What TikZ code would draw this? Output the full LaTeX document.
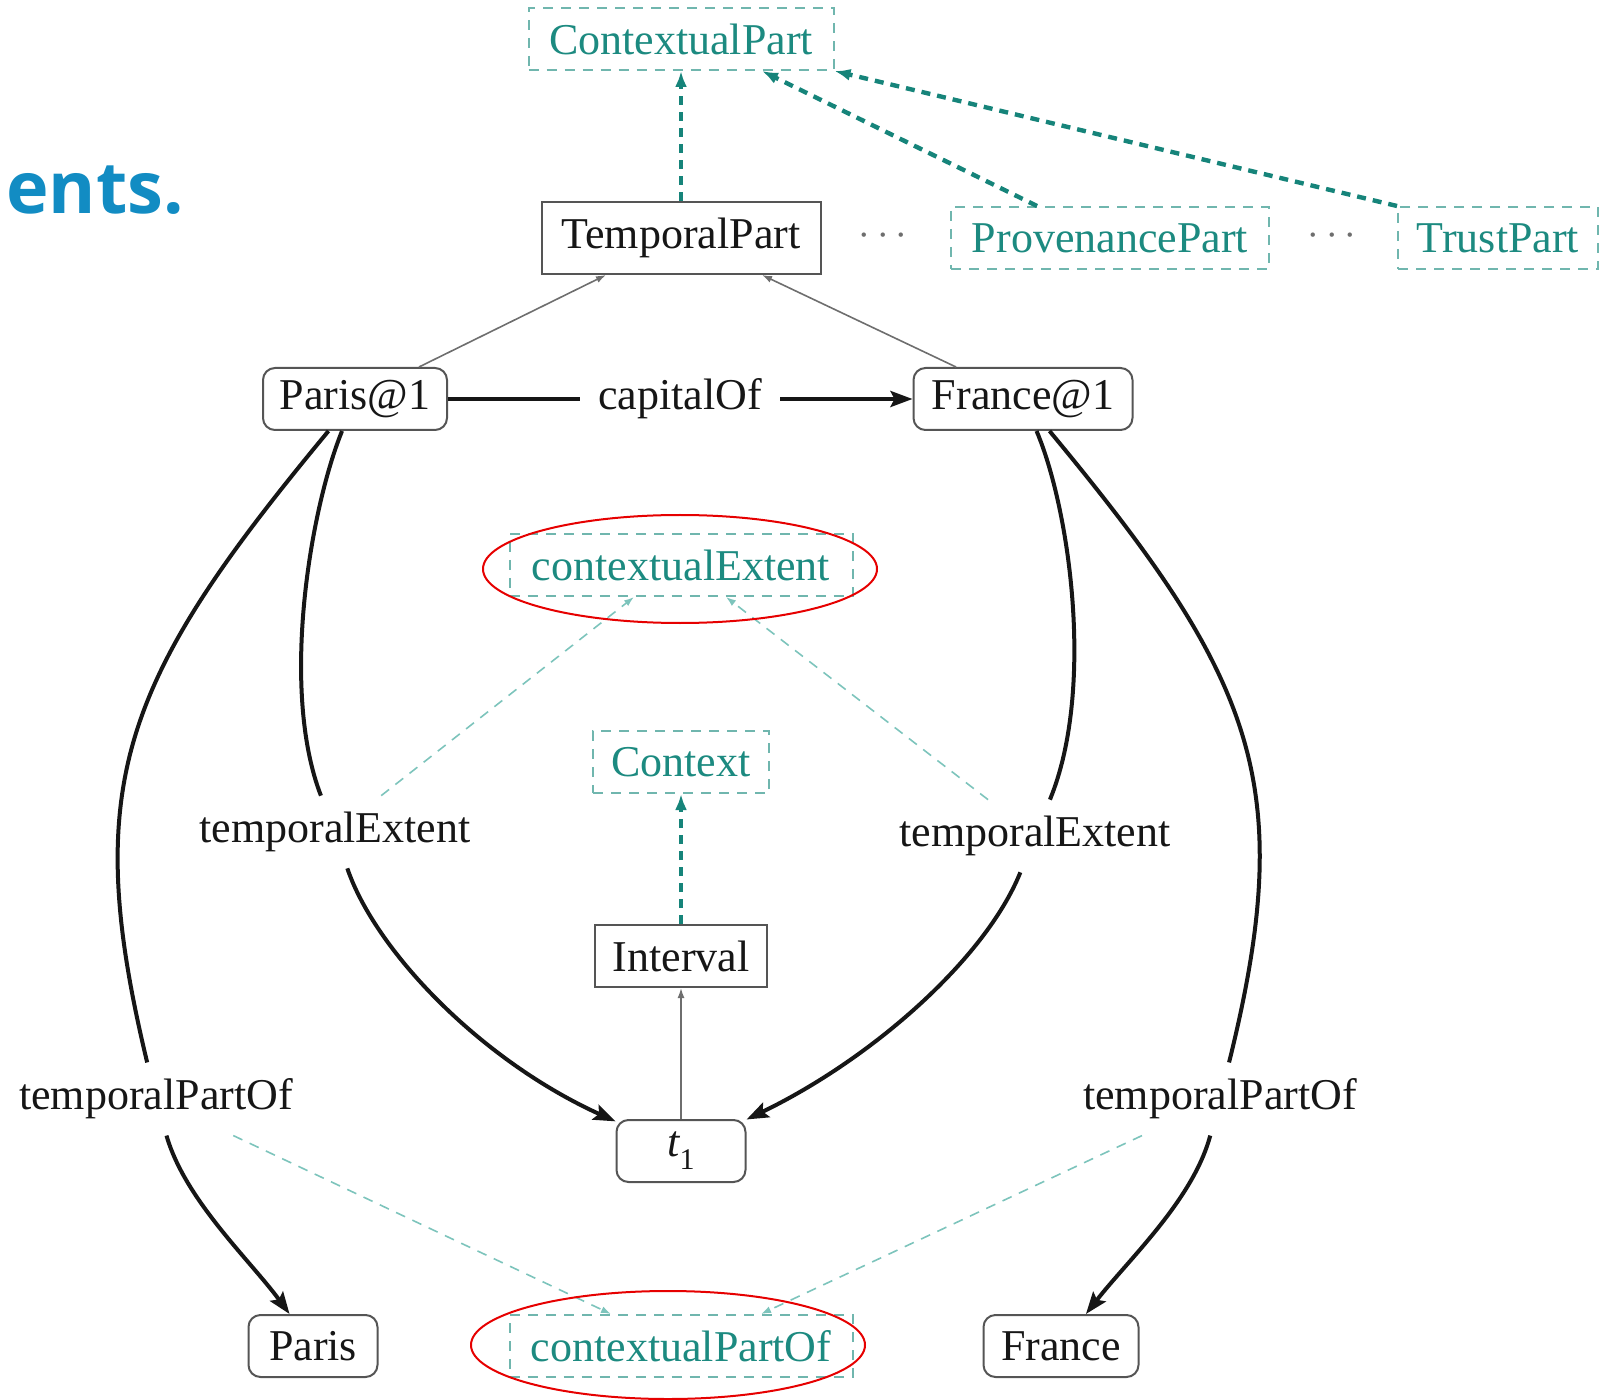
\documentclass[tikz,border=0pt]{standalone}
\usepackage{fontspec}
\setmainfont{Liberation Serif}
\newfontfamily\headfont{Open Sans}
\usetikzlibrary{arrows.meta,calc}

\definecolor{tealtext}{RGB}{28,138,128}
\definecolor{tealborder}{RGB}{112,182,174}
\definecolor{tealline}{RGB}{22,132,122}
\definecolor{teallight}{RGB}{125,196,188}
\definecolor{inkblack}{RGB}{22,22,22}
\definecolor{greyline}{RGB}{110,110,110}
\definecolor{boxline}{RGB}{85,85,85}
\definecolor{headblue}{RGB}{18,140,195}
\definecolor{markred}{RGB}{230,0,0}

\tikzset{
  base/.style={font=\fontsize{22}{26}\selectfont, text=inkblack, inner sep=0pt, minimum height=31pt},
  dbox/.style={base, draw=tealborder, line width=1pt, dash pattern=on 5pt off 4pt, text=tealtext},
  sbox/.style={base, draw=boxline, line width=1pt},
  rbox/.style={base, draw=boxline, line width=1pt, rounded corners=6pt},
  lbl/.style={font=\fontsize{22}{26}\selectfont, text=inkblack, inner xsep=4pt, inner ysep=8pt},
  ellip/.style={font=\fontsize{22}{26}\selectfont, text=greyline, inner sep=0pt},
  thickarr/.style={draw=inkblack, line width=2pt, -{Stealth[length=11pt, width=8pt, inset=2pt]}},
  tealarr/.style={draw=tealline, line width=2.2pt, dash pattern=on 4.5pt off 3.5pt, -{Latex[length=8pt, width=6pt]}},
  thindash/.style={draw=teallight, line width=0.8pt, dash pattern=on 5pt off 4pt, -{Latex[length=5pt, width=3.5pt]}},
  greyarr/.style={draw=greyline, line width=0.8pt, -{Latex[length=5pt, width=3.5pt]}},
  redmark/.style={draw=markred, line width=1pt}
}

\begin{document}
\begin{tikzpicture}[x=0.5pt, y=-0.5pt]
\useasboundingbox (0,0) rectangle (1604,1400);
\clip (0,0) rectangle (1604,1400);

% heading fragment at the left edge
\node[anchor=base east, inner sep=0pt, text=headblue,
      font=\headfont\bfseries\fontsize{36}{40}\selectfont] (head) at (184,214) {ents.};

% context parts
\node[dbox, minimum width=152.5pt] (CP) at (681,39) {ContextualPart};
\node[sbox, minimum width=139.5pt, minimum height=36pt] (TP) at (681,238) {TemporalPart};
\node[ellip] (d1) at (883,236) {$\cdots$};
\node[dbox, minimum width=159pt] (PP) at (1110,238) {ProvenancePart};
\node[ellip] (d2) at (1332,236) {$\cdots$};
\node[dbox, minimum width=100pt] (TR) at (1498,238) {TrustPart};

% temporal parts and resources
\node[rbox, minimum width=92pt] (P1) at (355,399) {Paris@1};
\node[rbox, minimum width=109.5pt] (F1) at (1023,399) {France@1};
\node[dbox, minimum width=171.5pt] (CE) at (681,565) {contextualExtent};
\node[dbox, minimum width=88pt] (CX) at (681,762) {Context};
\node[sbox, minimum width=86pt] (IV) at (681,956) {Interval};
\node[rbox, minimum width=64.5pt] (T1) at (681,1151) {\itshape t\raisebox{-0.3em}{\upshape\fontsize{15}{15}\selectfont 1}};
\node[rbox, minimum width=64.5pt] (PA) at (313,1346) {Paris};
\node[dbox, minimum width=171.5pt] (CPO) at (681,1346) {contextualPartOf};
\node[rbox, minimum width=77.5pt] (FR) at (1061,1346) {France};

% property labels on the curved edges
\node[lbl] (TEL) at (335,832) {temporalExtent};
\node[lbl] (TER) at (1035,836) {temporalExtent};
\node[lbl] (TPL) at (156,1099) {temporalPartOf};
\node[lbl] (TPR) at (1220,1099) {temporalPartOf};

% subclass links to the context parts
\draw[tealarr] (TP) -- (CP);
\draw[tealarr] ($(PP.north west)+(87,0)$) -- ($(CP.south)+(81,0)$);
\draw[tealarr] (TR.north west) -- (CP.south east);
\draw[tealarr] (IV) -- (CX);

\draw[greyarr] ($(P1.north)+(64,0)$) -- ($(TP.south)+(-75,0)$);
\draw[greyarr] ($(F1.north)+(-67,0)$) -- ($(TP.south)+(81,0)$);
\draw[greyarr] (T1) -- (IV);

% capitalOf
\draw[thickarr] (P1) -- node[lbl, inner xsep=9pt, inner ysep=2pt, fill=white] (cap) {capitalOf} (F1);

% temporalExtent
\draw[thickarr] (P1) .. controls (310,510) and (280,690) .. (TEL)
                     .. controls (375,950) and (480,1060) .. (T1);
\draw[thickarr] (F1) .. controls (1070,510) and (1095,690) .. (TER)
                     .. controls (985,960) and (870,1060) .. (T1);

% temporalPartOf
\draw[thickarr] (P1) .. controls (122,680) and (80,784) .. (TPL)
                     .. controls (185,1200) and (250,1260) .. (PA);
\draw[thickarr] (F1) .. controls (1256,680) and (1298,784) .. (TPR)
                     .. controls (1193,1200) and (1128,1260) .. (FR);

% subproperty links
\draw[thindash] (TEL) -- ($(CE.south)+(-47,0)$);
\draw[thindash] (TER) -- ($(CE.south)+(45,0)$);
\draw[thindash] (TPL) -- ($(CPO.north)+(-70,0)$);
\draw[thindash] (TPR) -- ($(CPO.north)+(80,0)$);

% highlight marks
\draw[redmark] ($(CE.center)+(-1,4)$) ellipse [x radius=197, y radius=54];
\draw[redmark] ($(CPO.center)+(-13,-1)$) ellipse [x radius=197, y radius=54];
\end{tikzpicture}
\end{document}
